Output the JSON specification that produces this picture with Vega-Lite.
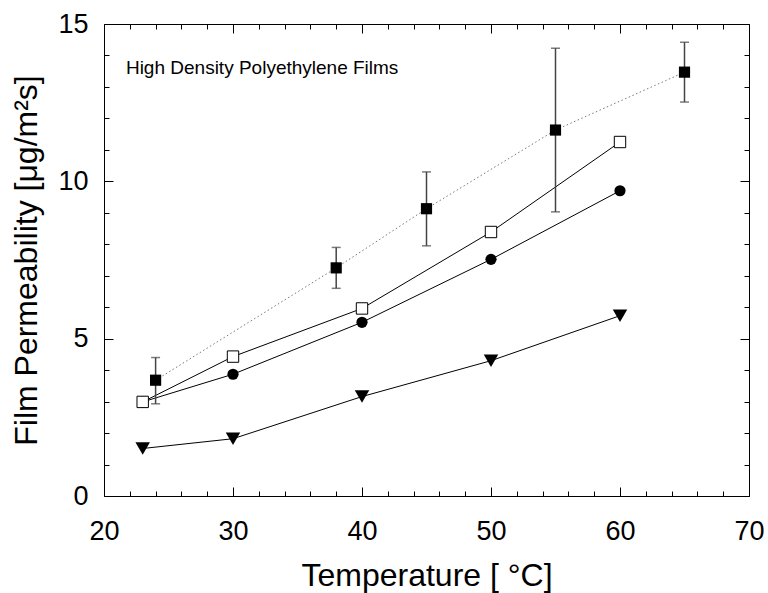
{
  "$schema": "https://vega.github.io/schema/vega-lite/v6.json",
  "width": 645,
  "height": 472,
  "autosize": {"type": "none"},
  "padding": {"left": 104, "top": 24, "right": 19, "bottom": 97},
  "background": "white",
  "config": {
    "view": {"stroke": "black", "strokeWidth": 1},
    "axis": {
      "grid": false,
      "domain": false,
      "labelFlush": false,
      "labelFont": "Liberation Sans",
      "titleFont": "Liberation Sans",
      "labelColor": "black",
      "titleColor": "black",
      "tickColor": "black",
      "titleFontWeight": "normal"
    }
  },
  "data": {
    "values": [
      {"s": "fs", "t": 24, "p": 3.68, "lo": 2.93, "hi": 4.40},
      {"s": "fs", "t": 38, "p": 7.25, "lo": 6.60, "hi": 7.90},
      {"s": "fs", "t": 45, "p": 9.13, "lo": 7.95, "hi": 10.30},
      {"s": "fs", "t": 55, "p": 11.63, "lo": 9.03, "hi": 14.23},
      {"s": "fs", "t": 65, "p": 13.47, "lo": 12.52, "hi": 14.42},
      {"s": "fc", "t": 23, "p": 2.99},
      {"s": "fc", "t": 30, "p": 3.87},
      {"s": "fc", "t": 40, "p": 5.52},
      {"s": "fc", "t": 50, "p": 7.52},
      {"s": "fc", "t": 60, "p": 9.70},
      {"s": "os", "t": 23, "p": 2.99},
      {"s": "os", "t": 30, "p": 4.43},
      {"s": "os", "t": 40, "p": 5.96},
      {"s": "os", "t": 50, "p": 8.39},
      {"s": "os", "t": 60, "p": 11.25},
      {"s": "tr", "t": 23, "p": 1.51},
      {"s": "tr", "t": 30, "p": 1.82},
      {"s": "tr", "t": 40, "p": 3.16},
      {"s": "tr", "t": 50, "p": 4.30},
      {"s": "tr", "t": 60, "p": 5.73}
    ]
  },
  "resolve": {"axis": {"x": "independent", "y": "independent"}},
  "layer": [
    {
      "mark": {"type": "point", "opacity": 0},
      "encoding": {
        "x": {"field": "t", "type": "quantitative", "scale": {"domain": [20, 70], "nice": false, "zero": false},
          "axis": {"orient": "bottom", "values": [20, 30, 40, 50, 60, 70], "tickSize": -9, "labelFontSize": 27, "labelPadding": 31, "title": "Temperature [ °C]", "titleFontSize": 32, "titlePadding": 16}},
        "y": {"field": "p", "type": "quantitative", "scale": {"domain": [0, 15], "nice": false, "zero": false},
          "axis": {"orient": "left", "values": [0, 5, 10, 15], "tickSize": -9, "labelFontSize": 27, "labelPadding": 25, "title": "Film Permeability [μg/m²s]", "titleFontSize": 32, "titlePadding": 14}}
      }
    },
    {
      "mark": {"type": "point", "opacity": 0},
      "encoding": {
        "x": {"field": "t", "type": "quantitative", "scale": {"domain": [20, 70], "nice": false, "zero": false},
          "axis": {"orient": "bottom", "values": [22, 24, 26, 28, 32, 34, 36, 38, 42, 44, 46, 48, 52, 54, 56, 58, 62, 64, 66, 68], "tickSize": -5, "labels": false, "title": null}},
        "y": {"field": "p", "type": "quantitative", "scale": {"domain": [0, 15], "nice": false, "zero": false},
          "axis": {"orient": "left", "values": [1, 2, 3, 4, 6, 7, 8, 9, 11, 12, 13, 14], "tickSize": -5, "labels": false, "title": null}}
      }
    },
    {
      "mark": {"type": "point", "opacity": 0},
      "encoding": {
        "x": {"field": "t", "type": "quantitative", "scale": {"domain": [20, 70], "nice": false, "zero": false},
          "axis": {"orient": "top", "values": [20, 30, 40, 50, 60, 70], "tickSize": -9, "labels": false, "title": null}},
        "y": {"field": "p", "type": "quantitative", "scale": {"domain": [0, 15], "nice": false, "zero": false},
          "axis": {"orient": "right", "values": [0, 5, 10, 15], "tickSize": -9, "labels": false, "title": null}}
      }
    },
    {
      "mark": {"type": "point", "opacity": 0},
      "encoding": {
        "x": {"field": "t", "type": "quantitative", "scale": {"domain": [20, 70], "nice": false, "zero": false},
          "axis": {"orient": "top", "values": [22, 24, 26, 28, 32, 34, 36, 38, 42, 44, 46, 48, 52, 54, 56, 58, 62, 64, 66, 68], "tickSize": -5, "labels": false, "title": null}},
        "y": {"field": "p", "type": "quantitative", "scale": {"domain": [0, 15], "nice": false, "zero": false},
          "axis": {"orient": "right", "values": [1, 2, 3, 4, 6, 7, 8, 9, 11, 12, 13, 14], "tickSize": -5, "labels": false, "title": null}}
      }
    },
    {
      "transform": [{"filter": "datum.s === 'fs'"}],
      "mark": {"type": "line", "color": "#777777", "strokeWidth": 1, "strokeDash": [1.5, 2.5]},
      "encoding": {
        "x": {"field": "t", "type": "quantitative", "axis": null},
        "y": {"field": "p", "type": "quantitative", "axis": null}
      }
    },
    {
      "transform": [{"filter": "datum.s !== 'fs'"}],
      "mark": {"type": "line", "color": "black", "strokeWidth": 1},
      "encoding": {
        "x": {"field": "t", "type": "quantitative", "axis": null},
        "y": {"field": "p", "type": "quantitative", "axis": null},
        "detail": {"field": "s"}
      }
    },
    {
      "transform": [{"filter": "datum.s === 'fs'"}],
      "mark": {"type": "rule", "color": "#444444", "strokeWidth": 1.5},
      "encoding": {
        "x": {"field": "t", "type": "quantitative", "axis": null},
        "y": {"field": "lo", "type": "quantitative", "axis": null},
        "y2": {"field": "hi"}
      }
    },
    {
      "transform": [{"filter": "datum.s === 'fs'"}],
      "mark": {"type": "tick", "orient": "horizontal", "color": "#444444", "thickness": 1.5, "size": 9},
      "encoding": {
        "x": {"field": "t", "type": "quantitative", "axis": null},
        "y": {"field": "lo", "type": "quantitative", "axis": null}
      }
    },
    {
      "transform": [{"filter": "datum.s === 'fs'"}],
      "mark": {"type": "tick", "orient": "horizontal", "color": "#444444", "thickness": 1.5, "size": 9},
      "encoding": {
        "x": {"field": "t", "type": "quantitative", "axis": null},
        "y": {"field": "hi", "type": "quantitative", "axis": null}
      }
    },
    {
      "transform": [{"filter": "datum.s === 'fs'"}],
      "mark": {"type": "point", "shape": "square", "filled": true, "color": "black", "size": 125, "opacity": 1},
      "encoding": {
        "x": {"field": "t", "type": "quantitative", "axis": null},
        "y": {"field": "p", "type": "quantitative", "axis": null}
      }
    },
    {
      "transform": [{"filter": "datum.s === 'fc'"}],
      "mark": {"type": "point", "shape": "circle", "filled": true, "color": "black", "size": 125, "opacity": 1},
      "encoding": {
        "x": {"field": "t", "type": "quantitative", "axis": null},
        "y": {"field": "p", "type": "quantitative", "axis": null}
      }
    },
    {
      "transform": [{"filter": "datum.s === 'tr'"}],
      "mark": {"type": "point", "shape": "triangle-down", "filled": true, "color": "black", "size": 210, "opacity": 1},
      "encoding": {
        "x": {"field": "t", "type": "quantitative", "axis": null},
        "y": {"field": "p", "type": "quantitative", "axis": null}
      }
    },
    {
      "transform": [{"filter": "datum.s === 'os'"}],
      "mark": {"type": "point", "shape": "square", "filled": true, "fill": "white", "stroke": "black", "strokeWidth": 1, "size": 130, "opacity": 1},
      "encoding": {
        "x": {"field": "t", "type": "quantitative", "axis": null},
        "y": {"field": "p", "type": "quantitative", "axis": null}
      }
    },
    {
      "data": {"values": [{"t": 21.7, "p": 13.6, "label": "High Density Polyethylene Films"}]},
      "mark": {"type": "text", "align": "left", "baseline": "middle", "font": "Liberation Sans", "fontSize": 19, "color": "black"},
      "encoding": {
        "x": {"field": "t", "type": "quantitative", "axis": null},
        "y": {"field": "p", "type": "quantitative", "axis": null},
        "text": {"field": "label"}
      }
    }
  ]
}
